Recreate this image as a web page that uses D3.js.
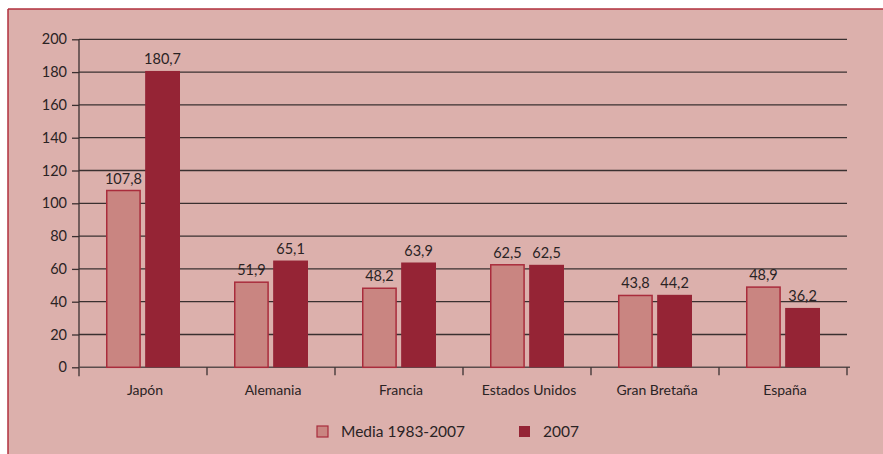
<!DOCTYPE html>
<html><head><meta charset="utf-8">
<script src="https://cdn.jsdelivr.net/npm/d3@7"></script>
<style>body{margin:0;background:#fff;overflow:hidden}svg{display:block}text{font-family:Lato,"Noto Sans",sans-serif;fill:#2a2324}</style>
</head><body><svg id="c" width="883" height="454"></svg>
<script>
const categories=["Japón","Alemania","Francia","Estados Unidos","Gran Bretaña","España"];
const seriesNames=["Media 1983-2007","2007"];
const media=[107.8,51.9,48.2,62.5,43.8,48.9];
const y2007=[180.7,65.1,63.9,62.5,44.2,36.2];
const yTicks=[0,20,40,60,80,100,120,140,160,180,200];
const fmt=v=>v.toFixed(1).replace(".",",");

const svg=d3.select("#c");
svg.append("rect").attr("x",8).attr("y",9).attr("width",875).attr("height",445).attr("fill","#dcb0ac");
svg.append("line").attr("x1",8).attr("x2",883).attr("y1",9).attr("y2",9).attr("stroke","#b0303e").attr("stroke-width",1.5);
svg.append("line").attr("x1",8).attr("x2",8).attr("y1",9).attr("y2",454).attr("stroke","#b0303e").attr("stroke-width",1.5);

const L=79,R=847,T=39.3,B=367.3;
const x=d3.scaleBand().domain(categories).range([L,R]).paddingInner(0).paddingOuter(0);
const xs=d3.scaleBand().domain(seriesNames).range([27,x.bandwidth()-27]).paddingInner(0.11);
const y=d3.scaleLinear().domain([0,200]).range([B,T]);

const g=svg.append("g");
g.selectAll("line.grid").data(yTicks.filter(d=>d>0)).join("line")
  .attr("x1",L).attr("x2",R).attr("y1",d=>y(d)).attr("y2",d=>y(d))
  .attr("stroke","#3a3030").attr("stroke-width",1.3);

const ya=g.append("g").attr("transform",`translate(${L},0)`).call(d3.axisLeft(y).tickValues(yTicks).tickSize(7).tickPadding(5));
ya.select(".domain").remove();
ya.append("line").attr("x1",0).attr("x2",0).attr("y1",T).attr("y2",B+9).attr("stroke","#3a3030").attr("stroke-width",1.3);
ya.selectAll(".tick line").attr("stroke","#3a3030").attr("stroke-width",1.3);
ya.selectAll(".tick text").attr("font-size",14.5).attr("fill","#2a2324");

const xa=g.append("g").attr("transform",`translate(0,${B})`);
xa.append("line").attr("x1",L).attr("x2",R+3).attr("stroke","#5a4c4c").attr("stroke-width",1.5);
const bounds=categories.map(c=>x(c)+x.bandwidth());
xa.selectAll("line.t").data(bounds).join("line").attr("x1",d=>d).attr("x2",d=>d).attr("y1",0).attr("y2",8)
  .attr("stroke","#3a3030").attr("stroke-width",1.3);
xa.selectAll("text.cat").data(categories).join("text").attr("class","cat")
  .attr("x",d=>x(d)+x.bandwidth()/2+2).attr("y",28).attr("text-anchor","middle").attr("font-size",14).text(d=>d);

const colors={"Media 1983-2007":"#c98581","2007":"#952435"};
const data=categories.map((c,i)=>({c,vals:[{s:seriesNames[0],v:media[i]},{s:seriesNames[1],v:y2007[i]}]}));
const grp=g.selectAll("g.grp").data(data).join("g").attr("transform",d=>`translate(${x(d.c)},0)`);
grp.selectAll("rect").data(d=>d.vals).join("rect")
  .attr("x",d=>xs(d.s)+(d.s===seriesNames[0]?0.75:0)).attr("width",d=>xs.bandwidth()-(d.s===seriesNames[0]?1.5:0))
  .attr("y",d=>y(d.v)).attr("height",d=>B-y(d.v))
  .attr("fill",d=>colors[d.s]).attr("stroke",d=>d.s===seriesNames[0]?"#a92c3c":"none").attr("stroke-width",1.5);
grp.selectAll("text").data(d=>d.vals).join("text")
  .attr("x",d=>xs(d.s)+xs.bandwidth()/2).attr("y",d=>y(d.v)-7).attr("text-anchor","middle").attr("font-size",14.5).text(d=>fmt(d.v));

const lg=svg.append("g");
const lx=[317,519],tx=[341,543];
seriesNames.forEach((s,i)=>{
  lg.append("rect").attr("x",lx[i]).attr("y",426).attr("width",11).attr("height",11)
    .attr("fill",colors[s]).attr("stroke",i===0?"#a92c3c":"none").attr("stroke-width",1.2);
  lg.append("text").attr("x",tx[i]).attr("y",437).attr("font-size",15.5).text(s);
});
</script></body></html>
